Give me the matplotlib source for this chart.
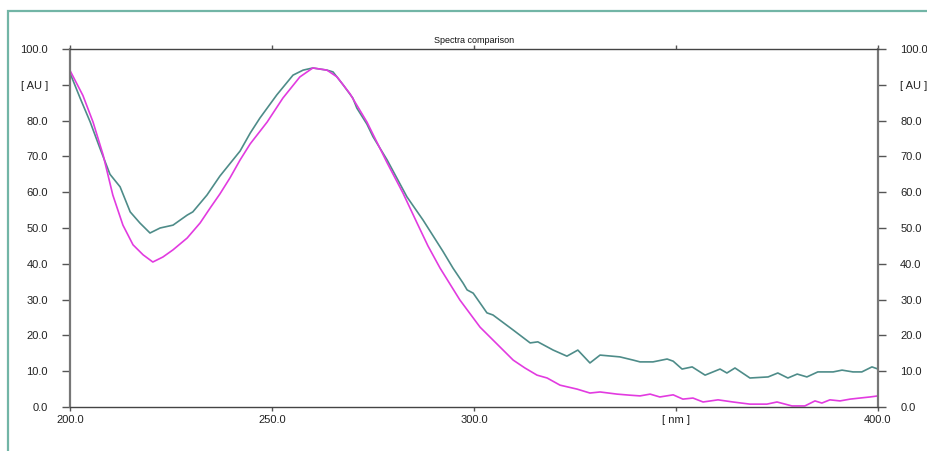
import matplotlib
matplotlib.use("Agg")
import matplotlib.pyplot as plt
from matplotlib.patches import Rectangle

plt.rcParams['font.family'] = ['Liberation Sans', 'DejaVu Sans']

# Series 1 (teal)
wl_teal = [200.0, 202.5, 205.0, 207.4, 209.9, 212.4, 214.9, 217.3, 219.8, 222.3,
           225.5, 229.0, 230.4, 233.9, 237.1, 239.6, 242.1, 244.6, 247.0, 251.2, 255.2,
           257.7, 260.1, 263.6, 265.1, 267.6, 270.0, 271.0, 273.5, 275.0, 278.5,
           283.4, 287.4, 292.3, 294.8, 297.3, 298.3, 299.8, 303.2, 304.7, 309.7,
           313.9, 315.8, 319.6, 323.0, 325.7, 328.7, 331.2, 336.1, 339.4, 341.1,
           344.3, 347.8, 349.3, 351.5, 354.0, 357.2, 360.9, 362.6, 364.6, 368.3,
           372.8, 375.2, 377.7, 380.0, 382.4, 385.1, 388.9, 391.1, 393.8, 396.0,
           398.5, 400.0]
abs_teal = [93.3, 86.3, 79.6, 72.3, 65.0, 61.5, 54.5, 51.4, 48.6, 50.0,
            50.8, 53.6, 54.5, 59.2, 64.5, 68.0, 71.5, 76.5, 80.7, 87.2, 92.7,
            94.1, 94.7, 94.1, 93.6, 90.0, 86.3, 83.5, 79.0, 75.5, 69.0,
            58.7, 52.2, 43.5, 38.8, 34.6, 32.7, 31.8, 26.3, 25.7, 21.5,
            17.9, 18.2, 15.9, 14.2, 15.9, 12.3, 14.5, 14.0, 13.1, 12.6,
            12.6, 13.4, 12.8, 10.6, 11.2, 8.9, 10.6, 9.5, 10.9, 8.1,
            8.4, 9.5, 8.1, 9.2, 8.4, 9.8, 9.8, 10.3, 9.8, 9.8,
            11.2, 10.6]

# Series 2 (magenta)
wl_mag = [200.0, 203.2, 205.7, 208.2, 210.6, 213.1, 215.6, 218.1, 220.5, 223.0,
          225.5, 229.0, 232.2, 234.7, 237.1, 239.6, 242.1, 244.6, 248.8, 252.7, 256.9, 260.1,
          263.6, 266.1, 269.3, 273.5, 278.5, 282.4, 285.9, 288.6, 291.6, 296.5,
          301.5, 306.4, 309.7, 312.6, 315.6, 318.1, 321.3, 325.5, 328.7, 331.2,
          335.4, 338.6, 341.1, 343.6, 346.0, 349.3, 351.7, 354.2, 356.7, 360.4,
          364.1, 368.3, 372.5, 375.0, 378.7, 381.9, 384.4, 386.1, 388.1, 390.6,
          393.1, 395.5, 398.0, 400.0]
abs_mag = [94.0, 87.0, 79.6, 70.4, 59.2, 50.8, 45.3, 42.5, 40.5, 41.9,
           43.9, 47.2, 51.4, 55.6, 59.5, 64.0, 69.0, 73.5, 79.6, 86.3, 92.2, 94.7,
           94.1, 92.2, 87.5, 79.6, 68.2, 59.8, 51.4, 45.0, 38.8, 29.9,
           22.3, 16.8, 13.1, 10.9, 8.9, 8.1, 6.1, 5.0, 3.9, 4.2,
           3.6, 3.3, 3.1, 3.6, 2.8, 3.4, 2.2, 2.5, 1.4, 2.0,
           1.4, 0.8, 0.8, 1.4, 0.3, 0.3, 1.7, 1.1, 2.0, 1.7,
           2.2, 2.5, 2.8, 3.1]

x_ticks = [200, 250, 300, 350, 400]
x_labels = ["200.0", "250.0", "300.0", "[ nm ]", "400.0"]
y_ticks = [0, 10, 20, 30, 40, 50, 60, 70, 80, 90, 100]
y_labels = ["0.0", "10.0", "20.0", "30.0", "40.0", "50.0", "60.0", "70.0", "80.0", "[ AU ]", "100.0"]

W, H = 927, 451
fig = plt.figure(figsize=(W / 100, H / 100), dpi=100)
ax = fig.add_axes([70 / W, 1 - 407 / H, (878 - 70) / W, (407 - 49) / H])

ax.plot(wl_teal, abs_teal, color="#4e8c89", lw=1.2)
ax.plot(wl_mag, abs_mag, color="#e23be0", lw=1.2)

ax.set_xlim(200, 400)
ax.set_ylim(0, 100)

ax.set_xticks(x_ticks)
ax.set_xticklabels(x_labels)
ax.set_yticks(y_ticks)
ax.set_yticklabels(y_labels)

ax.tick_params(axis="y", which="both", direction="out", length=6, width=1.0,
               color="#555555", left=True, right=True, labelleft=True, labelright=True,
               labelsize=8, labelcolor="#222222", pad=10)
ax.tick_params(axis="x", which="both", direction="out", length=3, width=1.0,
               color="#555555", bottom=True, top=True, labelbottom=True, labeltop=False,
               labelsize=8, labelcolor="#222222", pad=3)

for side in ["left", "right"]:
    ax.spines[side].set_color("#777777")
    ax.spines[side].set_linewidth(1.6)
for side in ["top", "bottom"]:
    ax.spines[side].set_color("#444444")
    ax.spines[side].set_linewidth(1.0)

ax.set_title("Spectra comparison", fontsize=6.5, pad=4, color="#111111")

fig.patches.append(Rectangle((8 / W, -0.1), 1.0, (1 - 11 / H) + 0.1, fill=False,
                             edgecolor="#72b5a6", lw=1.6, transform=fig.transFigure))

fig.savefig("out.png", dpi=100)
